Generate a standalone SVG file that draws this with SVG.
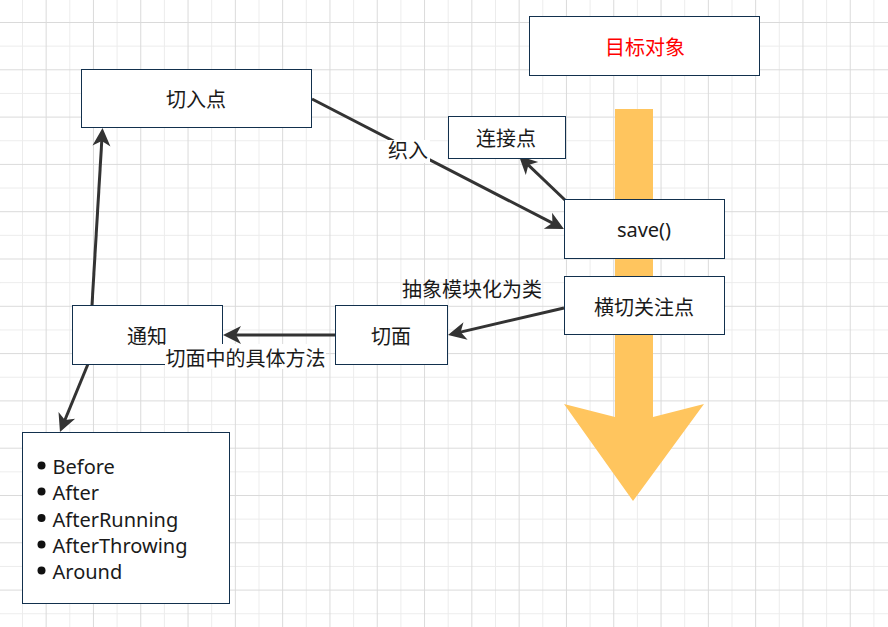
<svg xmlns="http://www.w3.org/2000/svg" width="888" height="627" viewBox="0 0 888 627">
  <style>
    .box { fill: #ffffff; stroke: #12304d; stroke-width: 1; }
    .t { font-family: "Noto Sans", "Noto Sans CJK SC", sans-serif; font-size: 20px; fill: #1a1a1a; text-anchor: middle; }
    .li { font-family: "Noto Sans", "Noto Sans CJK SC", sans-serif; font-size: 20px; fill: #1a1a1a; }
    .conn { stroke: #333333; stroke-width: 3; fill: none; marker-end: url(#arr); }
    .lblbg { fill: #ffffff; }
  </style>
  <defs>
    <pattern id="grid" patternUnits="userSpaceOnUse" x="22" y="22" width="47.3" height="47.3">
      <rect x="0" y="23.65" width="47.3" height="1" fill="#ececec"/>
      <rect x="0" y="0" width="1" height="47.3" fill="#ececec"/>
      <rect x="0" y="0" width="47.3" height="1" fill="#dadada"/>
      <rect x="23.65" y="0" width="1" height="47.3" fill="#dadada"/>
    </pattern>
    <marker id="arr" viewBox="-19 -10 21 20" refX="-4" refY="0" markerWidth="21" markerHeight="20" markerUnits="userSpaceOnUse" orient="auto">
      <path d="M0,0 L-18,-9 L-13,0 L-18,9 Z" fill="#333333"/>
    </marker>
  </defs>
  <rect x="0" y="0" width="888" height="627" fill="#ffffff"/>
  <rect x="0" y="0" width="888" height="627" fill="url(#grid)"/>

  <g id="flow-arrow">
    <polygon points="615,109 653,109 653,417 704,404 633,501 564,404 615,417" fill="#ffc55e"/>
  </g>

  <g id="connectors">
    <line class="conn" x1="312" y1="99" x2="560.4" y2="227.2"/>
    <line class="conn" x1="565" y1="200" x2="521.9" y2="158.8"/>
    <line class="conn" x1="564" y1="308" x2="451.9" y2="334.1"/>
    <line class="conn" x1="335" y1="335" x2="227" y2="335"/>
    <line class="conn" x1="92" y1="305" x2="102.3" y2="132"/>
    <line class="conn" x1="88" y1="364" x2="61.5" y2="428.3"/>
  </g>

  <g id="node-qierudian">
    <rect class="box" x="81.5" y="69.5" width="230" height="58"/>
    <text class="t" x="196" y="107">切入点</text>
  </g>
  <g id="node-mubiao">
    <rect class="box" x="529.5" y="16.5" width="230" height="59"/>
    <text class="t" x="645" y="55" style="fill:#ff0000">目标对象</text>
  </g>
  <g id="node-lianjiedian">
    <rect class="box" x="448.5" y="116.5" width="117" height="42"/>
    <text class="t" x="506" y="145.5">连接点</text>
  </g>
  <g id="node-save">
    <rect class="box" x="564.5" y="199.5" width="160" height="59"/>
    <text class="t" x="644" y="237">save()</text>
  </g>
  <g id="node-hengqie">
    <rect class="box" x="564.5" y="276.5" width="160" height="58"/>
    <text class="t" x="644" y="314.5">横切关注点</text>
  </g>
  <g id="node-qiemian">
    <rect class="box" x="335.5" y="305.5" width="112" height="59"/>
    <text class="t" x="391" y="343.5">切面</text>
  </g>
  <g id="node-tongzhi">
    <rect class="box" x="72.5" y="305.5" width="150" height="59"/>
    <text class="t" x="147" y="343.5">通知</text>
  </g>
  <g id="node-list">
    <rect class="box" x="22.5" y="432.5" width="207" height="171"/>
    <circle cx="41.5" cy="465.5" r="4" fill="#111"/>
    <circle cx="41.5" cy="491.5" r="4" fill="#111"/>
    <circle cx="41.5" cy="518" r="4" fill="#111"/>
    <circle cx="41.5" cy="544.5" r="4" fill="#111"/>
    <circle cx="41.5" cy="570.5" r="4" fill="#111"/>
    <text class="li" x="52.5" y="474">Before</text>
    <text class="li" x="52.5" y="500">After</text>
    <text class="li" x="52.5" y="526.5">AfterRunning</text>
    <text class="li" x="52.5" y="553">AfterThrowing</text>
    <text class="li" x="52.5" y="579">Around</text>
  </g>

  <g id="connector-labels">
    <rect class="lblbg" x="386" y="140" width="44" height="23"/>
    <text class="t" x="408" y="158">织入</text>
    <text class="t" x="472" y="297">抽象模块化为类</text>
    <rect class="lblbg" x="165" y="344" width="161" height="25"/>
    <text class="t" x="245.5" y="365.5">切面中的具体方法</text>
  </g>
</svg>
